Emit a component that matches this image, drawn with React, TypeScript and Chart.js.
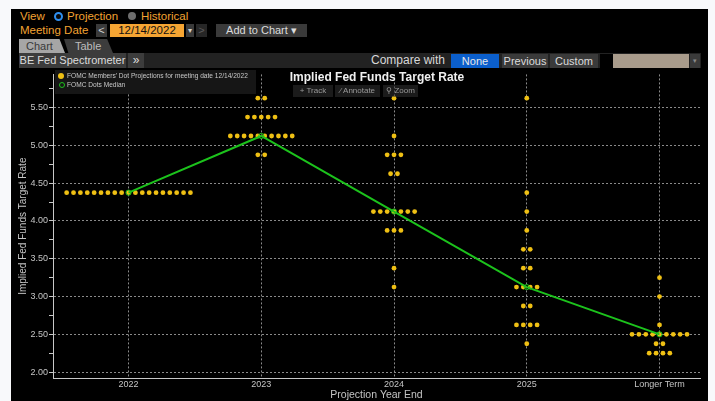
import React, { useEffect, useRef } from "react";
import { Chart, registerables } from "chart.js";

Chart.register(...registerables);

// ---- Data ----
const categories = ["2022", "2023", "2024", "2025", "Longer Term"];
// [rate, number of participants]
const dots2022: [number, number][] = [[4.375, 19]];
const dots2023: [number, number][] = [[5.625, 2], [5.375, 5], [5.125, 10], [4.875, 2]];
const dots2024: [number, number][] = [
  [5.625, 1], [5.125, 1], [4.875, 3], [4.625, 2], [4.125, 7], [3.875, 3], [3.375, 1], [3.125, 1],
];
const dots2025: [number, number][] = [
  [5.625, 1], [4.375, 1], [4.125, 1], [3.875, 1], [3.625, 2], [3.375, 2], [3.125, 4], [2.875, 2], [2.625, 4], [2.375, 1],
];
const dotsLonger: [number, number][] = [[3.25, 1], [3.0, 1], [2.625, 1], [2.5, 9], [2.375, 2], [2.25, 4]];
const medianRates = [4.375, 5.125, 4.125, 3.125, 2.5];
const yMajorStep = 0.5;
const yMinorStep = 0.25;

const dotsLabel = "FOMC Members' Dot Projections for meeting date 12/14/2022";
const medianLabel = "FOMC Dots Median";

// ---- Style ----
const YELLOW = "#efc014";
const GREEN = "#1cc21c";
const GRID = "#8a8a8a";
const AXIS = "#c8c8c8";
const LABEL = "#c4c4c4";
const ORANGE = "#f3a332";
const FONT = "'Liberation Sans', Arial, sans-serif";
const DOT_GAP = 0.0518;

const dotGroups = [dots2022, dots2023, dots2024, dots2025, dotsLonger];

function ChartCanvas() {
  const ref = useRef<HTMLCanvasElement | null>(null);
  useEffect(() => {
    if (!ref.current) return;
    const dotPoints = dotGroups.flatMap((group, ci) =>
      group.flatMap(([rate, count]) =>
        Array.from({ length: count }, (_, k) => ({ x: ci + (k - (count - 1) / 2) * DOT_GAP, y: rate }))
      )
    );
    const isMajor = (v: number) => Math.abs(v / yMajorStep - Math.round(v / yMajorStep)) < 1e-6;
    const chart = new Chart(ref.current, {
      type: "scatter",
      data: {
        datasets: [
          {
            type: "line",
            label: medianLabel,
            data: medianRates.map((y, i) => ({ x: i, y })),
            borderColor: GREEN,
            borderWidth: 2,
            pointRadius: 2.6,
            pointBorderColor: GREEN,
            pointBackgroundColor: "rgba(0,0,0,0)",
            pointBorderWidth: 1,
            tension: 0,
            order: 0,
          } as any,
          {
            type: "scatter",
            label: dotsLabel,
            data: dotPoints,
            pointRadius: 2.4,
            backgroundColor: YELLOW,
            borderWidth: 0,
            order: 1,
          } as any,
        ],
      },
      options: {
        animation: false,
        responsive: false,
        maintainAspectRatio: false,
        layout: { padding: { top: 0, right: 8, bottom: 0, left: 0 } },
        plugins: { legend: { display: false }, tooltip: { enabled: false } },
        scales: {
          x: {
            type: "linear",
            min: -0.569,
            max: 4.305,
            afterBuildTicks: (s: any) => {
              s.ticks = categories.map((_, i) => ({ value: i }));
            },
            afterFit: (s: any) => {
              s.height = 23;
            },
            ticks: {
              callback: (v: any) => categories[v] ?? "",
              color: LABEL,
              font: { family: FONT, size: 9 },
              padding: 1,
              maxRotation: 0,
              autoSkip: false,
            },
            grid: { color: GRID, drawTicks: false, lineWidth: 1 },
            border: { display: true, color: AXIS, width: 1, dash: [2, 2] },
            title: {
              display: true,
              text: "Projection Year End",
              color: LABEL,
              font: { family: FONT, size: 10.5 },
              padding: 0,
            },
          },
          y: {
            type: "linear",
            min: 1.922,
            max: 5.94,
            afterBuildTicks: (s: any) => {
              const t: any[] = [];
              for (let v = 2; v <= 5.94 + 1e-9; v += yMinorStep) t.push({ value: v });
              s.ticks = t;
            },
            afterFit: (s: any) => {
              s.width = 42;
            },
            ticks: {
              callback: (v: any) => (isMajor(Number(v)) ? Number(v).toFixed(2) : ""),
              color: LABEL,
              font: { family: FONT, size: 9 },
              padding: 1,
              autoSkip: false,
            },
            grid: {
              color: (ctx: any) => (ctx.tick && isMajor(ctx.tick.value) ? GRID : "rgba(0,0,0,0)"),
              tickColor: AXIS,
              tickLength: 4,
              tickBorderDash: [],
              lineWidth: 1,
            },
            border: { display: true, color: AXIS, width: 1, dash: [2, 2] },
            title: {
              display: true,
              text: "Implied Fed Funds Target Rate",
              color: LABEL,
              font: { family: FONT, size: 10 },
              padding: { top: 6, bottom: 0 },
            },
          },
        },
      } as any,
    });
    return () => chart.destroy();
  }, []);
  return (
    <canvas
      ref={ref}
      width={697}
      height={333}
      style={{ position: "absolute", left: 11, top: 68, width: 697, height: 333 }}
    />
  );
}

const abs = (left: number, top: number, w?: number, h?: number, extra: React.CSSProperties = {}): React.CSSProperties => ({
  position: "absolute",
  left,
  top,
  width: w,
  height: h,
  boxSizing: "border-box",
  whiteSpace: "nowrap",
  ...extra,
});

function Btn(props: { left: number; top: number; w: number; h: number; bg: string; color: string; text: string; size?: number }) {
  return (
    <div
      style={abs(props.left, props.top, props.w, props.h, {
        background: props.bg,
        color: props.color,
        fontSize: props.size ?? 11,
        lineHeight: props.h + "px",
        textAlign: "center",
      })}
    >
      {props.text}
    </div>
  );
}

export default function App() {
  return (
    <div
      style={{
        position: "absolute",
        left: 0,
        top: 0,
        width: 715,
        height: 401,
        background: "#f8f9fb",
        overflow: "hidden",
        fontFamily: FONT,
      }}
    >
      <div style={abs(11, 9, 697, 392, { background: "#000" })} />
      {/* Row 1 */}
      <div style={abs(20, 9, undefined, 14, { color: ORANGE, fontSize: 11.5, lineHeight: "14px" })}>View</div>
      <div style={abs(54, 12, 9, 9, { borderRadius: "50%", border: "2px solid #2f8ff0", background: "#0a0a0a" })} />
      <div style={abs(67, 9, undefined, 14, { color: ORANGE, fontSize: 11.5, lineHeight: "14px" })}>Projection</div>
      <div style={abs(128, 12, 8, 8, { borderRadius: "50%", background: "#6e6e6e" })} />
      <div style={abs(141, 9, undefined, 14, { color: ORANGE, fontSize: 11.5, lineHeight: "14px" })}>Historical</div>
      {/* Row 2 */}
      <div style={abs(20, 23, undefined, 14, { color: ORANGE, fontSize: 11.5, lineHeight: "14px" })}>Meeting Date</div>
      <Btn left={96} top={24} w={11} h={13} bg="#3a3a3a" color="#d0d0d0" text="<" />
      <Btn left={110} top={24} w={74} h={13} bg="#f5a533" color="#111" text="12/14/2022" size={11.5} />
      <Btn left={186} top={24} w={8} h={13} bg="#3a3a3a" color="#d0d0d0" text="▾" size={8} />
      <Btn left={196} top={24} w={11} h={13} bg="#262626" color="#5a5a5a" text=">" />
      <Btn left={216} top={24} w={91} h={13} bg="#3a3a3a" color="#dcdcdc" text="Add to Chart ▾" />
      {/* Tabs */}
      <div
        style={abs(19, 39, 46, 14, {
          background: "#a6a6a6",
          color: "#3a3a3a",
          fontSize: 11,
          lineHeight: "14px",
          paddingLeft: 7,
          clipPath: "polygon(0 0, 88% 0, 100% 100%, 0 100%)",
        })}
      >
        Chart
      </div>
      <div
        style={abs(64, 39, 49, 14, {
          background: "#3c3c3c",
          color: "#bdbdbd",
          fontSize: 11,
          lineHeight: "14px",
          paddingLeft: 11,
          clipPath: "polygon(0 0, 88% 0, 100% 100%, 9% 100%)",
        })}
      >
        Table
      </div>
      {/* Row 4 bar */}
      <div style={abs(19, 53, 682, 15, { background: "#222" })} />
      <Btn left={19} top={53} w={107} h={15} bg="#3c3c3c" color="#dcdcdc" text="BE Fed Spectrometer" />
      <Btn left={128} top={53} w={16} h={15} bg="#3c3c3c" color="#dcdcdc" text="»" size={12} />
      <div style={abs(371, 53, undefined, 15, { color: "#d8d8d8", fontSize: 12, lineHeight: "15px" })}>Compare with</div>
      <Btn left={451} top={54} w={48} h={14} bg="#0b5fcc" color="#e8e8e8" text="None" />
      <Btn left={502} top={54} w={46} h={14} bg="#3a3a3a" color="#dcdcdc" text="Previous" />
      <Btn left={550} top={54} w={48} h={14} bg="#3a3a3a" color="#dcdcdc" text="Custom" />
      <div style={abs(600, 54, 13, 14, { background: "#000" })} />
      <div style={abs(613, 54, 76, 14, { background: "#a89b8b" })} />
      <Btn left={690} top={54} w={10} h={14} bg="#3a3a3a" color="#8a8a8a" text="▾" size={7} />

      <ChartCanvas />

      {/* Overlays inside plot */}
      <div style={abs(55, 70, 201, 24, { background: "#161616" })} />
      <div style={abs(58, 73, 6, 6, { borderRadius: "50%", background: YELLOW })} />
      <div style={abs(59, 82, 6, 6, { borderRadius: "50%", border: "1px solid " + GREEN })} />
      <div style={abs(67, 71, undefined, 9, { color: "#c8c8c8", fontSize: 6.6, lineHeight: "9px" })}>{dotsLabel}</div>
      <div style={abs(67, 80, undefined, 9, { color: "#c8c8c8", fontSize: 6.6, lineHeight: "9px" })}>{medianLabel}</div>

      <div
        style={abs(272, 70, 210, 15, {
          color: "#f0f0f0",
          fontSize: 12,
          fontWeight: "bold",
          lineHeight: "15px",
          textAlign: "center",
        })}
      >
        Implied Fed Funds Target Rate
      </div>
      <Btn left={293} top={85} w={40} h={12} bg="rgba(50,50,50,0.55)" color="#9a9a9a" text="+ Track" size={8} />
      <Btn left={335} top={85} w={45} h={12} bg="rgba(50,50,50,0.55)" color="#9a9a9a" text="⁄ Annotate" size={8} />
      <Btn left={383} top={85} w={35} h={12} bg="rgba(50,50,50,0.55)" color="#9a9a9a" text="⚲ Zoom" size={8} />
    </div>
  );
}
